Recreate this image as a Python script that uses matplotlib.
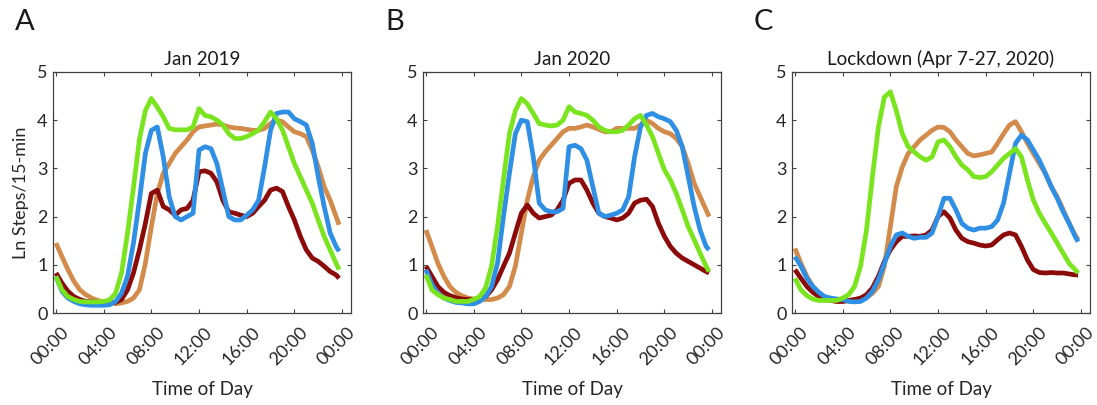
import numpy as np
import matplotlib
matplotlib.use("Agg")
import matplotlib.pyplot as plt
from matplotlib.transforms import ScaledTranslation

plt.rcParams['font.family'] = ['Lato', 'DejaVu Sans']

# time of day in hours (half-hour samples plus last 15-min bin)
hours = list(np.arange(0, 24, 0.5)) + [23.75]

panel_letters = ["A", "B", "C"]
panel_titles = ["Jan 2019", "Jan 2020", "Lockdown (Apr 7-27, 2020)"]
tick_hours = [0, 4, 8, 12, 16, 20, 24]
tick_labels = ["00:00", "04:00", "08:00", "12:00", "16:00", "20:00", "00:00"]

# ---- Panel A: Jan 2019 ----
a_green = [0.76, 0.48, 0.34, 0.28, 0.24, 0.23, 0.23, 0.23, 0.24, 0.27, 0.41, 0.83,
           1.65, 2.6, 3.6, 4.2, 4.45, 4.27, 4.07, 3.83, 3.8, 3.8, 3.8, 3.86,
           4.24, 4.1, 4.07, 4.0, 3.9, 3.72, 3.62, 3.62, 3.66, 3.72, 3.8, 3.97,
           4.17, 4.03, 3.8, 3.45, 3.1, 2.83, 2.55, 2.28, 1.93, 1.59, 1.31, 1.03, 0.9]
a_blue = [0.76, 0.45, 0.31, 0.24, 0.19, 0.17, 0.16, 0.16, 0.16, 0.17, 0.24, 0.41,
          0.76, 1.45, 2.34, 3.31, 3.79, 3.86, 3.24, 2.41, 2.0, 1.93, 2.0, 2.07,
          3.38, 3.45, 3.41, 3.1, 2.55, 2.0, 1.93, 1.93, 2.03, 2.14, 2.34, 3.03,
          3.79, 4.14, 4.17, 4.17, 4.03, 3.97, 3.9, 3.52, 2.83, 2.21, 1.66, 1.38, 1.28]
a_orange = [1.45, 1.17, 0.9, 0.66, 0.48, 0.38, 0.31, 0.26, 0.23, 0.21, 0.19, 0.21,
            0.24, 0.31, 0.48, 1.03, 1.79, 2.48, 2.9, 3.1, 3.31, 3.45, 3.59, 3.76,
            3.86, 3.88, 3.9, 3.92, 3.9, 3.86, 3.84, 3.83, 3.81, 3.79, 3.79, 3.83,
            3.93, 4.0, 3.97, 3.86, 3.76, 3.72, 3.66, 3.38, 3.03, 2.62, 2.34, 2.0, 1.83]
a_red = [0.83, 0.62, 0.45, 0.34, 0.28, 0.24, 0.23, 0.22, 0.21, 0.21, 0.22, 0.28,
         0.48, 0.83, 1.31, 1.86, 2.48, 2.55, 2.21, 2.14, 2.03, 2.14, 2.17, 2.34,
         2.93, 2.95, 2.9, 2.72, 2.34, 2.1, 2.07, 2.03, 2.0, 2.07, 2.21, 2.34,
         2.55, 2.59, 2.52, 2.21, 1.93, 1.59, 1.31, 1.14, 1.07, 0.97, 0.86, 0.79, 0.72]

# ---- Panel B: Jan 2020 ----
b_green = [0.79, 0.48, 0.38, 0.31, 0.28, 0.24, 0.24, 0.24, 0.28, 0.34, 0.52, 0.97,
           1.79, 2.76, 3.72, 4.2, 4.45, 4.34, 4.14, 3.93, 3.9, 3.88, 3.9, 4.0,
           4.28, 4.17, 4.14, 4.1, 4.0, 3.86, 3.79, 3.76, 3.76, 3.79, 3.9, 4.03,
           4.1, 3.9, 3.66, 3.31, 2.97, 2.76, 2.48, 2.14, 1.79, 1.52, 1.24, 0.97, 0.86]
b_blue = [0.9, 0.59, 0.41, 0.31, 0.26, 0.22, 0.21, 0.19, 0.19, 0.24, 0.34, 0.55,
          1.03, 2.0, 2.9, 3.72, 4.0, 3.97, 3.24, 2.28, 2.14, 2.1, 2.1, 2.17,
          3.45, 3.48, 3.41, 3.17, 2.62, 2.07, 2.0, 2.03, 2.07, 2.14, 2.41, 3.24,
          3.86, 4.1, 4.14, 4.07, 4.03, 3.97, 3.79, 3.45, 2.83, 2.21, 1.72, 1.38, 1.31]
b_orange = [1.72, 1.38, 1.03, 0.76, 0.55, 0.43, 0.36, 0.31, 0.29, 0.28, 0.28, 0.28,
            0.31, 0.38, 0.55, 0.97, 1.66, 2.34, 2.83, 3.17, 3.34, 3.48, 3.62, 3.76,
            3.83, 3.83, 3.86, 3.9, 3.86, 3.81, 3.76, 3.76, 3.83, 3.83, 3.83, 3.83,
            3.9, 4.0, 3.93, 3.83, 3.76, 3.72, 3.62, 3.45, 3.1, 2.69, 2.41, 2.14, 2.0]
b_red = [0.97, 0.76, 0.55, 0.43, 0.36, 0.32, 0.29, 0.28, 0.28, 0.29, 0.34, 0.48,
         0.69, 0.97, 1.24, 1.66, 2.07, 2.24, 2.07, 1.97, 2.0, 2.03, 2.14, 2.34,
         2.69, 2.76, 2.76, 2.55, 2.28, 2.07, 2.0, 1.97, 1.93, 1.97, 2.07, 2.28,
         2.34, 2.36, 2.21, 1.86, 1.59, 1.38, 1.24, 1.14, 1.07, 1.0, 0.93, 0.86, 0.83]

# ---- Panel C: Lockdown ----
c_green = [0.72, 0.48, 0.36, 0.29, 0.26, 0.26, 0.26, 0.26, 0.31, 0.38, 0.55, 0.97,
           1.72, 2.83, 3.86, 4.48, 4.59, 4.2, 3.72, 3.45, 3.34, 3.24, 3.17, 3.24,
           3.55, 3.59, 3.45, 3.24, 3.07, 2.97, 2.83, 2.81, 2.83, 2.93, 3.07, 3.21,
           3.31, 3.41, 3.24, 2.76, 2.34, 2.07, 1.86, 1.66, 1.45, 1.24, 1.03, 0.9, 0.83]
c_blue = [1.17, 0.97, 0.72, 0.55, 0.43, 0.34, 0.31, 0.29, 0.28, 0.24, 0.23, 0.24,
          0.31, 0.45, 0.69, 1.03, 1.38, 1.62, 1.66, 1.59, 1.55, 1.57, 1.57, 1.66,
          2.0, 2.38, 2.38, 2.14, 1.86, 1.76, 1.72, 1.76, 1.76, 1.79, 1.93, 2.28,
          2.9, 3.52, 3.69, 3.59, 3.38, 3.17, 2.9, 2.62, 2.38, 2.1, 1.86, 1.59, 1.48]
c_orange = [1.34, 1.03, 0.76, 0.55, 0.41, 0.32, 0.28, 0.24, 0.24, 0.26, 0.28, 0.29,
            0.32, 0.41, 0.55, 0.97, 1.79, 2.62, 3.03, 3.31, 3.45, 3.59, 3.69, 3.79,
            3.86, 3.85, 3.76, 3.59, 3.45, 3.31, 3.26, 3.28, 3.31, 3.34, 3.52, 3.72,
            3.9, 3.97, 3.76, 3.52, 3.31, 3.1, 2.9, 2.62, 2.41, 2.14, 1.86, 1.62, 1.52]
c_red = [0.9, 0.72, 0.55, 0.43, 0.34, 0.29, 0.26, 0.24, 0.24, 0.26, 0.28, 0.31,
         0.38, 0.52, 0.76, 1.07, 1.31, 1.48, 1.59, 1.59, 1.6, 1.59, 1.62, 1.72,
         2.0, 2.1, 1.97, 1.72, 1.55, 1.48, 1.45, 1.41, 1.39, 1.41, 1.52, 1.62,
         1.66, 1.62, 1.38, 1.1, 0.9, 0.84, 0.83, 0.84, 0.83, 0.83, 0.81, 0.79, 0.79]

panels = [
    [a_orange, a_red, a_blue, a_green],
    [b_orange, b_red, b_blue, b_green],
    [c_orange, c_red, c_blue, c_green],
]
series_colors = ["#D38B4B", "#8B0A0A", "#2F8FE5", "#7AE41E"]

fig = plt.figure(figsize=(10.97, 4.05), dpi=100)
lefts = [53 / 1097, 423 / 1097, 792 / 1097]
w = 298 / 1097
b = (405 - 313) / 405
h = 241 / 405

shift = ScaledTranslation(5 / 100, -3 / 100, fig.dpi_scale_trans)

for i, left in enumerate(lefts):
    ax = fig.add_axes([left, b, w, h])
    for vals, col in zip(panels[i], series_colors):
        ax.plot(hours, vals, color=col, lw=3.4, solid_capstyle='butt', solid_joinstyle='round')
    ax.set_xlim(-0.25, 24.75)
    ax.set_ylim(0, 5)
    ax.set_yticks([0, 1, 2, 3, 4, 5])
    ax.set_xticks(tick_hours)
    ax.set_xticklabels(tick_labels, rotation=45, ha='right', va='top',
                       rotation_mode='anchor')
    ax.tick_params(direction='in', top=True, right=True, length=3,
                   width=0.8, color='#404040', labelsize=13, labelcolor='#262626',
                   pad=4)
    ax.tick_params(axis='x', pad=6)
    for lbl in ax.get_xticklabels():
        lbl.set_transform(lbl.get_transform() + shift)
    for s in ax.spines.values():
        s.set_color('#404040')
        s.set_linewidth(0.9)
    ax.set_title(panel_titles[i], fontsize=13.5, color='#1a1a1a', pad=5)
    ax.set_xlabel("Time of Day", fontsize=13.5, color='#262626', labelpad=9)
    if i == 0:
        ax.set_ylabel("Ln Steps/15-min", fontsize=13, color='#262626', labelpad=6)
    fig.text(left - 38 / 1097, 1 - 22 / 405, panel_letters[i], fontsize=21,
             color='#1a1a1a', va='center', ha='left')

fig.savefig("out.png", dpi=100, facecolor='white')
